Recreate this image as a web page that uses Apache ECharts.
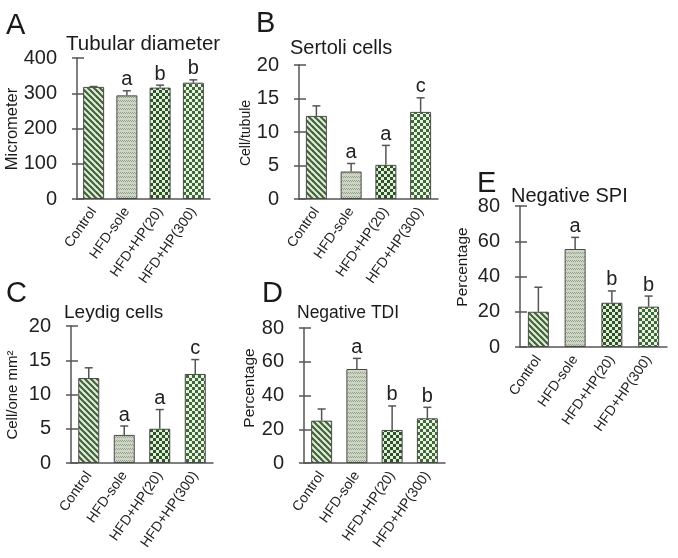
<!DOCTYPE html>
<html>
<head>
<meta charset="utf-8">
<script src="https://cdn.jsdelivr.net/npm/echarts@6/dist/echarts.min.js"></script>
<style>html,body{margin:0;padding:0;background:#fff;}#c{width:678px;height:558px;}</style>
</head>
<body>
<div id="c"></div>
<script>
const categories = ['Control', 'HFD-sole', 'HFD+HP(20)', 'HFD+HP(300)'];

const tubularMean = [318, 294, 316, 330];
const tubularSD   = [1, 13, 7, 8];
const tubularSig  = ['', 'a', 'b', 'b'];

const sertoliMean = [12.4, 4.1, 5.1, 13.0];
const sertoliSD   = [1.5, 1.2, 2.9, 2.1];
const sertoliSig  = ['', 'a', 'a', 'c'];

const leydigMean = [12.4, 4.1, 5.0, 13.0];
const leydigSD   = [1.5, 1.3, 2.8, 2.1];
const leydigSig  = ['', 'a', 'a', 'c'];

const tdiMean = [25.1, 55.7, 19.6, 26.5];
const tdiSD   = [6.9, 6.3, 14.2, 6.5];
const tdiSig  = ['', 'a', 'b', 'b'];

const spiMean = [20.0, 55.6, 25.1, 22.9];
const spiSD   = [13.9, 6.6, 6.7, 6.0];
const spiSig  = ['', 'a', 'b', 'b'];

function makePattern(kind) {
  const c = document.createElement('canvas');
  let s;
  if (kind === 0) {
    s = 6; c.width = s; c.height = s;
    const g = c.getContext('2d');
    g.fillStyle = '#e4eedc'; g.fillRect(0, 0, s, s);
    g.strokeStyle = '#3f6238'; g.lineWidth = 2.2;
    for (let k = -1; k <= 1; k++) {
      g.beginPath(); g.moveTo(k * s - 1, -1); g.lineTo(k * s + s + 1, s + 1); g.stroke();
    }
  } else if (kind === 1) {
    s = 4; c.width = s; c.height = s;
    const g = c.getContext('2d');
    g.fillStyle = '#ccd4c4'; g.fillRect(0, 0, s, s);
    g.fillStyle = '#98a48f';
    g.fillRect(0, 0, 1, 1); g.fillRect(1, 1, 1, 1); g.fillRect(2, 0, 1, 1); g.fillRect(3, 1, 1, 1);
  } else if (kind === 2) {
    s = 6; c.width = s; c.height = s;
    const g = c.getContext('2d');
    g.fillStyle = '#2c5429'; g.fillRect(0, 0, s, s);
    g.fillStyle = '#e2ecd9'; g.fillRect(0, 0, 3, 3); g.fillRect(3, 3, 3, 3);
  } else {
    s = 6; c.width = s; c.height = s;
    const g = c.getContext('2d');
    g.fillStyle = '#3e6a3a'; g.fillRect(0, 0, s, s);
    g.fillStyle = '#eaf2e2'; g.fillRect(0, 0, 3, 3); g.fillRect(3, 3, 3, 3);
  }
  return { image: c, repeat: 'repeat' };
}
const patterns = [makePattern(0), makePattern(1), makePattern(2), makePattern(3)];

const panels = [
  { grid: { left: 77, top: 58, width: 133, height: 141 }, max: 400, interval: 100, mean: tubularMean, sd: tubularSD, sig: tubularSig },
  { grid: { left: 299, top: 65, width: 139, height: 134 }, max: 20, interval: 5, mean: sertoliMean, sd: sertoliSD, sig: sertoliSig },
  { grid: { left: 71, top: 326, width: 142, height: 137 }, max: 20, interval: 5, mean: leydigMean, sd: leydigSD, sig: leydigSig },
  { grid: { left: 304, top: 328, width: 141, height: 135 }, max: 80, interval: 20, mean: tdiMean, sd: tdiSD, sig: tdiSig },
  { grid: { left: 520, top: 206, width: 147, height: 141 }, max: 80, interval: 20, mean: spiMean, sd: spiSD, sig: spiSig }
];

const FONT = '"Liberation Sans", Arial, sans-serif';
const AX = '#555';

const grids = [], xAxes = [], yAxes = [], series = [];
panels.forEach((p, i) => {
  grids.push(Object.assign({ containLabel: false }, p.grid));
  xAxes.push({
    type: 'category', gridIndex: i, data: categories,
    axisLine: { lineStyle: { color: AX, width: 1.5 } },
    axisTick: { show: false },
    axisLabel: { rotate: 55, fontSize: 14, color: '#222', fontFamily: FONT, margin: 10, interval: 0 }
  });
  yAxes.push({
    type: 'value', gridIndex: i, position: 'left', min: 0, max: p.max, interval: p.interval,
    splitLine: { show: false },
    axisLine: { show: true, lineStyle: { color: AX, width: 1.5 } },
    axisTick: { show: true, length: 5, lineStyle: { color: AX, width: 1.5 } },
    axisLabel: { fontSize: 20, color: '#222', fontFamily: FONT, margin: 20 }
  });
  yAxes.push({
    type: 'value', gridIndex: i, position: 'left', min: 0, max: p.max, interval: p.interval,
    splitLine: { show: false },
    axisLine: { show: false },
    axisTick: { show: true, inside: true, length: 7, lineStyle: { color: AX, width: 1.5 } },
    axisLabel: { show: false }
  });
  series.push({
    type: 'bar', xAxisIndex: i, yAxisIndex: i * 2, barWidth: 21,
    data: p.mean.map((v, k) => ({ value: v, itemStyle: { color: patterns[k] } })),
    itemStyle: { borderColor: '#4a4a4a', borderWidth: 1 },
    emphasis: { disabled: true }, silent: true, animation: false
  });
  series.push({
    type: 'custom', xAxisIndex: i, yAxisIndex: i * 2,
    data: p.mean.map((v, k) => [k, v, v + p.sd[k]]),
    renderItem: function (params, api) {
      const x = api.coord([api.value(0), 0])[0];
      const y0 = api.coord([0, api.value(1)])[1];
      const y1 = api.coord([0, api.value(2)])[1];
      const lbl = p.sig[params.dataIndex];
      const st = { stroke: '#555', lineWidth: 1.5 };
      const children = [
        { type: 'line', shape: { x1: x, y1: y0, x2: x, y2: y1 }, style: st },
        { type: 'line', shape: { x1: x - 4, y1: y1, x2: x + 4, y2: y1 }, style: st }
      ];
      if (lbl) {
        children.push({ type: 'text', x: x, y: y1 - 1,
          style: { text: lbl, fill: '#222', font: '20px ' + FONT, textAlign: 'center', textVerticalAlign: 'bottom' } });
      }
      return { type: 'group', children: children };
    },
    silent: true, animation: false, z: 5
  });
});

function txt(x, y, s, size) {
  return { type: 'text', x: x, y: y,
    style: { text: s, fill: '#1a1a1a', font: size + 'px ' + FONT, textAlign: 'left', textVerticalAlign: 'middle' } };
}
function vtxt(x, y, s, size) {
  return { type: 'text', x: x, y: y, rotation: Math.PI / 2,
    style: { text: s, fill: '#1a1a1a', font: size + 'px ' + FONT, textAlign: 'center', textVerticalAlign: 'middle' } };
}

const graphics = [
  txt(6, 26, 'A', 29), txt(66, 44, 'Tubular diameter', 20.5), vtxt(12, 129, 'Micrometer', 16.5),
  txt(256, 24, 'B', 29), txt(290, 48, 'Sertoli cells', 20), vtxt(246, 133, 'Cell/tubule', 14),
  txt(6, 294, 'C', 29), txt(64, 313, 'Leydig cells', 19), vtxt(13, 395, 'Cell/one mm²', 15),
  txt(262, 294, 'D', 29), txt(297, 313, 'Negative TDI', 17.5), vtxt(250, 388, 'Percentage', 15.5),
  txt(477, 184, 'E', 29), txt(511, 196, 'Negative SPI', 20), vtxt(463, 267, 'Percentage', 15.5)
];

const chart = echarts.init(document.getElementById('c'), null, { renderer: 'canvas' });
chart.setOption({
  backgroundColor: '#fff',
  animation: false,
  grid: grids, xAxis: xAxes, yAxis: yAxes, series: series,
  graphic: graphics
});
</script>
</body>
</html>
